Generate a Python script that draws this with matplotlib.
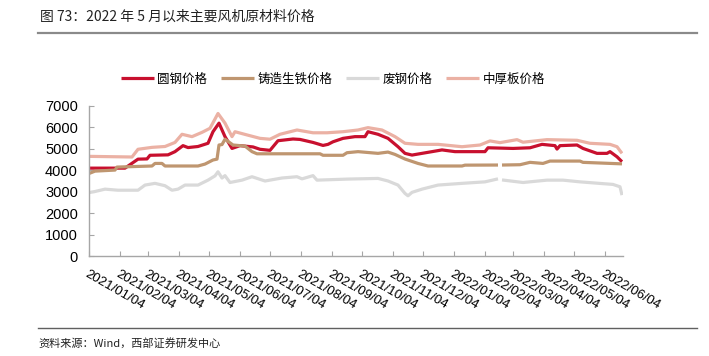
import numpy as np
import pandas as pd
import matplotlib
matplotlib.use("Agg")
import matplotlib.pyplot as plt

plt.rcParams['font.family'] = ['Noto Sans CJK SC', 'DejaVu Sans']

# 圆钢价格
red_dates = ["2021-01-04", "2021-02-09", "2021-02-22", "2021-03-03", "2021-03-06", "2021-03-24",
             "2021-03-31", "2021-04-08", "2021-04-13", "2021-04-23", "2021-05-03", "2021-05-08",
             "2021-05-14", "2021-05-20", "2021-05-27", "2021-06-04", "2021-06-17", "2021-06-24",
             "2021-07-04", "2021-07-12", "2021-07-27", "2021-08-03", "2021-08-16", "2021-08-26",
             "2021-08-31", "2021-09-05", "2021-09-15", "2021-09-27", "2021-10-07", "2021-10-10",
             "2021-10-20", "2021-10-30", "2021-11-09", "2021-11-16", "2021-11-23", "2021-12-03",
             "2021-12-13", "2021-12-23", "2022-01-05", "2022-02-04", "2022-02-07", "2022-03-04",
             "2022-03-21", "2022-04-02", "2022-04-15", "2022-04-17", "2022-04-20", "2022-05-07",
             "2022-05-13", "2022-05-27", "2022-06-06", "2022-06-09", "2022-06-16", "2022-06-21"]
red_vals = [4100, 4100, 4520, 4530, 4700, 4720,
            4870, 5150, 5060, 5110, 5260, 5800,
            6200, 5570, 5020, 5150, 5090, 4980,
            4930, 5380, 5460, 5440, 5300, 5160,
            5210, 5330, 5490, 5570, 5570, 5800,
            5680, 5490, 5100, 4790, 4710, 4790,
            4870, 4950, 4870, 4870, 5050, 5020,
            5050, 5210, 5150, 4990, 5150, 5180,
            5020, 4790, 4790, 4870, 4630, 4400]

# 铸造生铁价格
tan_dates = ["2021-01-04", "2021-01-10", "2021-01-30", "2021-02-01", "2021-03-08", "2021-03-11",
             "2021-03-18", "2021-03-21", "2021-04-23", "2021-04-30", "2021-05-08", "2021-05-12",
             "2021-05-14", "2021-05-17", "2021-05-20", "2021-05-28", "2021-06-09", "2021-06-16",
             "2021-06-21", "2021-08-23", "2021-08-26", "2021-09-15", "2021-09-19", "2021-09-30",
             "2021-10-20", "2021-10-30", "2021-11-06", "2021-11-16", "2021-11-29", "2021-12-09",
             "2022-01-12", "2022-01-15", "2022-02-17", "2022-02-19", "2022-02-21", "2022-03-11",
             "2022-03-21", "2022-04-03", "2022-04-10", "2022-05-10", "2022-05-13", "2022-06-21"]
tan_vals = [3850, 3960, 4010, 4150, 4200, 4320,
            4320, 4200, 4200, 4290, 4480, 4520,
            5180, 5200, 5450, 5180, 5130, 4870,
            4770, 4770, 4700, 4700, 4820, 4870,
            4790, 4850, 4740, 4525, 4320, 4200,
            4200, 4240, 4245, np.nan, 4245, 4260,
            4370, 4320, 4430, 4430, 4370, 4300]

# 废钢价格
gray_dates = ["2021-01-04", "2021-01-10", "2021-01-20", "2021-02-02", "2021-02-22", "2021-03-01",
              "2021-03-11", "2021-03-21", "2021-03-28", "2021-04-03", "2021-04-10", "2021-04-23",
              "2021-05-03", "2021-05-10", "2021-05-13", "2021-05-17", "2021-05-20", "2021-05-25",
              "2021-06-06", "2021-06-16", "2021-06-29", "2021-07-16", "2021-07-31", "2021-08-05",
              "2021-08-16", "2021-08-20", "2021-09-20", "2021-10-20", "2021-10-30", "2021-11-09",
              "2021-11-16", "2021-11-19", "2021-11-23", "2021-12-03", "2021-12-19", "2022-01-12",
              "2022-02-04", "2022-02-17", "2022-02-19", "2022-02-21", "2022-03-14", "2022-04-07",
              "2022-04-23", "2022-05-10", "2022-06-12", "2022-06-19", "2022-06-21"]
gray_vals = [2960, 3010, 3120, 3070, 3070, 3310,
             3390, 3280, 3070, 3120, 3310, 3310,
             3540, 3740, 3930, 3640, 3750, 3430,
             3540, 3700, 3500, 3640, 3700, 3600,
             3750, 3540, 3590, 3620, 3500, 3310,
             2920, 2810, 2970, 3120, 3310, 3390,
             3460, 3600, np.nan, 3550, 3430, 3540,
             3540, 3460, 3340, 3230, 2840]

# 中厚板价格
pink_dates = ["2021-01-04", "2021-02-16", "2021-02-22", "2021-03-08", "2021-03-21", "2021-03-31",
              "2021-04-07", "2021-04-17", "2021-04-27", "2021-05-05", "2021-05-13", "2021-05-20",
              "2021-05-27", "2021-05-30", "2021-06-11", "2021-06-24", "2021-07-04", "2021-07-14",
              "2021-07-31", "2021-08-16", "2021-08-30", "2021-09-15", "2021-09-30", "2021-10-10",
              "2021-10-24", "2021-11-06", "2021-11-16", "2021-11-29", "2021-12-19", "2022-01-12",
              "2022-01-30", "2022-02-09", "2022-02-19", "2022-03-08", "2022-03-14", "2022-04-07",
              "2022-05-07", "2022-05-20", "2022-06-09", "2022-06-16", "2022-06-21"]
pink_vals = [4650, 4620, 4980, 5070, 5110, 5300,
             5680, 5570, 5770, 5960, 6650, 6200,
             5570, 5800, 5650, 5490, 5450, 5680,
             5880, 5750, 5750, 5800, 5880, 5990,
             5880, 5570, 5260, 5210, 5210, 5100,
             5180, 5370, 5290, 5430, 5310, 5430,
             5400, 5260, 5210, 5100, 4790]

tick_labels = ["2021/01/04", "2021/02/04", "2021/03/04", "2021/04/04", "2021/05/04", "2021/06/04",
               "2021/07/04", "2021/08/04", "2021/09/04", "2021/10/04", "2021/11/04", "2021/12/04",
               "2022/01/04", "2022/02/04", "2022/03/04", "2022/04/04", "2022/05/04", "2022/06/04"]

fig = plt.figure(figsize=(7.09, 3.56), dpi=100)
ax = fig.add_axes([89/709, 1-256/356, (623-89)/709, (256-106)/356])

series = [
    ("圆钢价格", red_dates, red_vals, "#C8102E"),
    ("铸造生铁价格", tan_dates, tan_vals, "#BF9670"),
    ("废钢价格", gray_dates, gray_vals, "#D9D9D9"),
    ("中厚板价格", pink_dates, pink_vals, "#EBB1A4"),
]
for name, d, v, c in series:
    ax.plot(pd.to_datetime(d), v, color=c, lw=2.3, label=name, solid_capstyle="butt")

ax.set_ylim(0, 7000)
ax.set_yticks(range(0, 7001, 1000))
ax.set_xlim(pd.Timestamp("2021-01-04"), pd.Timestamp("2022-06-22"))
ax.set_xticks(pd.to_datetime(tick_labels, format="%Y/%m/%d"))
ax.set_xticklabels(tick_labels, rotation=-30, ha="left", va="top", rotation_mode="anchor",
                   fontfamily="Liberation Sans", fontsize=9.5)
for lab in ax.get_yticklabels():
    lab.set_fontfamily("Liberation Sans")
    lab.set_fontsize(10.5)

for s in ["top", "right"]:
    ax.spines[s].set_visible(False)
for s in ["left", "bottom"]:
    ax.spines[s].set_color("#a6a6a6")
    ax.spines[s].set_linewidth(1.0)
ax.tick_params(axis="x", direction="in", length=3.5, color="#a6a6a6", pad=9)
ax.tick_params(axis="y", direction="in", length=3.5, color="#a6a6a6", pad=8)

ax.legend(loc="center", bbox_to_anchor=(333/709, 1-79/356), bbox_transform=fig.transFigure,
          ncol=4, frameon=False, fontsize=9, handlelength=2.6, handletextpad=0.3,
          columnspacing=1.1)

# title, rules and source
fig.text(40/709, 1-17/356, "图 73：2022 年 5 月以来主要风机原材料价格", fontsize=10,
         va="center", ha="left", color="#222222")
fig.add_artist(plt.Line2D([38/709, 697/709], [1-33/356, 1-33/356], color="#8a8a8a", lw=1.6))
fig.add_artist(plt.Line2D([38/709, 697/709], [1-328/356, 1-328/356], color="#606060", lw=1.0))
fig.text(38/709, 1-343/356, "资料来源：Wind，西部证券研发中心", fontsize=8,
         va="center", ha="left", color="#222222")

fig.savefig("out.png", dpi=100)
